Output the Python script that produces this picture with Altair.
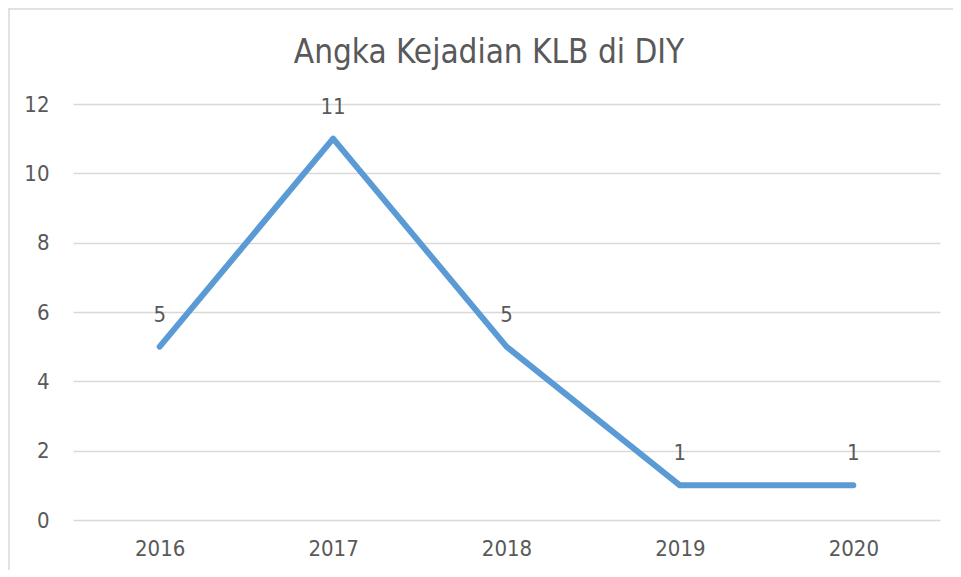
import altair as alt
import pandas as pd

years = ["2016", "2017", "2018", "2019", "2020"]
values = [5, 11, 5, 1, 1]
y_ticks = [0, 2, 4, 6, 8, 10, 12]
title_text = "Angka Kejadian KLB di DIY"

FONT = "Liberation Sans Narrow, DejaVu Sans Condensed, Arial Narrow, sans-serif"
TXT = "#595959"

df = pd.DataFrame({"year": years, "value": values})

x_enc = alt.X("year:O", scale=alt.Scale(type="point", padding=0.5),
              axis=alt.Axis(title=None, labelAngle=0, domain=False, ticks=False,
                            labelPadding=18, labelFontSize=22, labelFont=FONT,
                            labelColor=TXT, grid=False))
y_enc = alt.Y("value:Q", scale=alt.Scale(domain=[0, 12], nice=False),
              axis=alt.Axis(title=None, values=y_ticks, domain=False, ticks=False,
                            labelPadding=24, labelFontSize=22, labelFont=FONT,
                            labelColor=TXT, gridColor="#D9D9D9", gridWidth=1.5))

base = alt.Chart(df)
line = base.mark_line(color="#5B9BD5", strokeWidth=6, strokeCap="round",
                      strokeJoin="round").encode(x=x_enc, y=y_enc)
labels = base.mark_text(dy=-32, fontSize=22, font=FONT, color=TXT).encode(
    x="year:O", y="value:Q", text="value:Q")

one = pd.DataFrame({"t": [title_text]})
left_border = alt.Chart(one).mark_rule(color="#D9D9D9", strokeWidth=1.5).encode(
    x=alt.value(-64), y=alt.value(-96), y2=alt.value(470))
top_border = alt.Chart(one).mark_rule(color="#D9D9D9", strokeWidth=1.5).encode(
    x=alt.value(-64), x2=alt.value(885), y=alt.value(-95))
title = alt.Chart(one).mark_text(fontSize=33, font=FONT, color=TXT,
                                 baseline="alphabetic", align="center").encode(
    x=alt.value(416), y=alt.value(-41), text="t:N")

chart = alt.layer(left_border, top_border, title, line, labels).properties(
    width=867, height=416,
    autosize=alt.AutoSizeParams(type="none"),
    padding={"left": 65, "top": 96, "right": 13, "bottom": 50},
).configure_view(stroke=None)

chart.save("out.html", embed_options={"renderer": "svg", "actions": False})
